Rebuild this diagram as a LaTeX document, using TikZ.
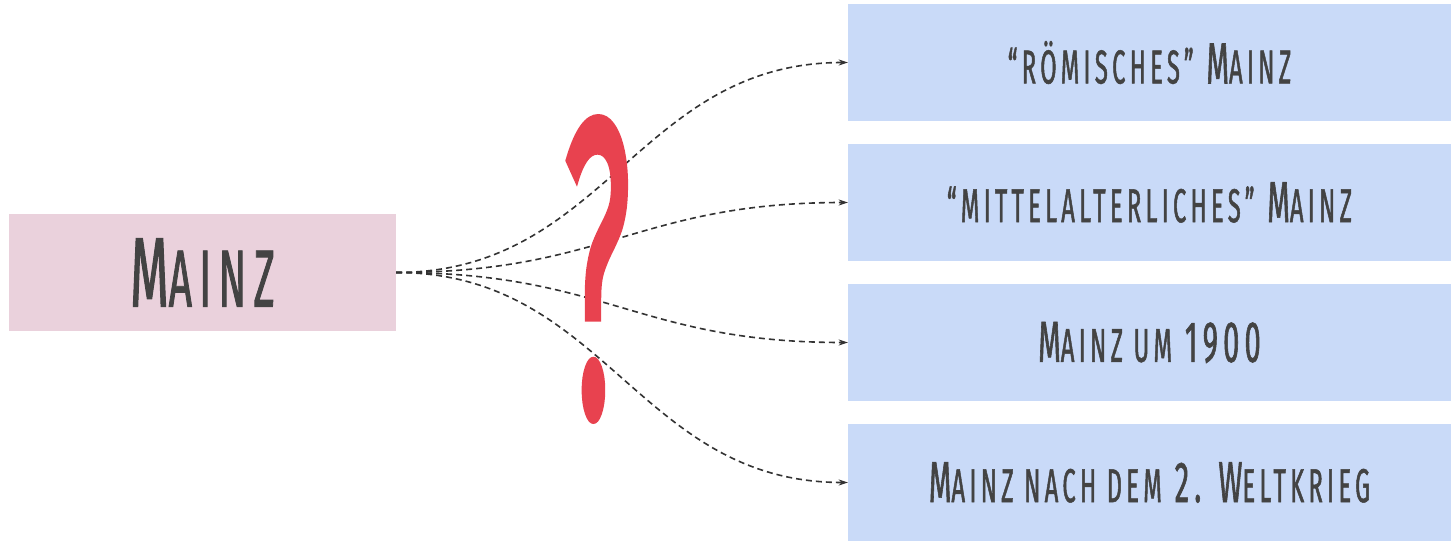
\documentclass[tikz,border=0pt]{standalone}
\usepackage{fontspec}
\usepackage{graphicx}
\setmainfont{Fira Sans}
\newfontfamily\amfont{Fira Sans}[FakeStretch=0.5,LetterSpace=9,FakeBold=1]
\newfontfamily\qfont{Fira Sans}[FakeBold=2]
\usetikzlibrary{arrows.meta}
\definecolor{txt}{HTML}{434343}
\definecolor{pinkbox}{HTML}{EAD1DC}
\definecolor{bluebox}{HTML}{C9DAF8}
\definecolor{qred}{HTML}{E8424F}
\definecolor{conncol}{HTML}{333333}
\makeatletter
\newcommand\sm[1]{{\fontsize{\fpeval{0.82*\f@size}}{\fpeval{0.82*\f@size}}\selectfont #1}}
\makeatother
\tikzset{
  srcbox/.style={fill=pinkbox, minimum width=387pt, minimum height=117pt, inner sep=0pt, text=txt, font=\amfont\fontsize{99}{99}\selectfont},
  topicbox/.style={fill=bluebox, minimum width=603pt, minimum height=117pt, inner sep=0pt, text=txt, font=\amfont\fontsize{58}{58}\selectfont},
  conn/.style={draw=conncol, line width=1.6pt, dash pattern=on 6pt off 4pt, -{Stealth[length=9pt,width=6pt]}},
  qmark/.style={inner sep=0pt, text=qred, font=\qfont}
}
\begin{document}
\begin{tikzpicture}[x=1pt,y=-1pt]
\useasboundingbox (0,0) rectangle (1451,541);
\node[srcbox] (mainz) at (202.5,272.5) {M\sm{AINZ}};
\node[topicbox] (r1) at (1149.5,62.5) {\sm{“RÖMISCHES”} M\sm{AINZ}};
\node[topicbox] (r2) at (1149.5,202.5) {\sm{“MITTELALTERLICHES”} M\sm{AINZ}};
\node[topicbox] (r3) at (1149.5,342.5) {M\sm{AINZ UM} 1900};
\node[topicbox] (r4) at (1149.5,482.5) {M\sm{AINZ NACH DEM} 2. W\sm{ELTKRIEG}};
\foreach \t in {r1,r2,r3,r4}{
  \draw[conn] (mainz.east) .. controls +(210,0) and +(-210,0) .. (\t.west);
}
\node[qmark] (q) at (597,269) {\resizebox{68pt}{296pt}{?}};
\end{tikzpicture}
\end{document}
